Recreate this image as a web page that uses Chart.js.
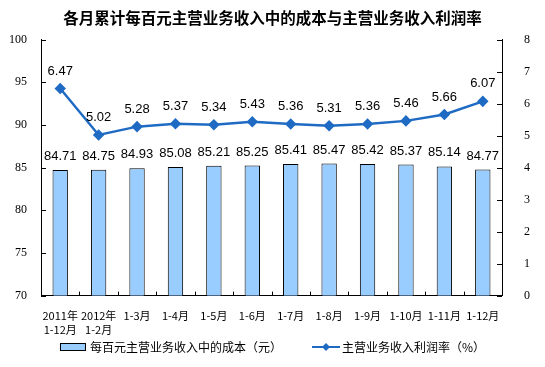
<!DOCTYPE html>
<html>
<head>
<meta charset="utf-8">
<script src="https://cdn.jsdelivr.net/npm/chart.js@4/dist/chart.umd.min.js"></script>
<style>
  html, body { margin: 0; padding: 0; background: #fff; }
  #wrap { width: 545px; height: 367px; }
</style>
</head>
<body>
<div id="wrap"><canvas id="myChart" width="545" height="367"></canvas></div>
<script>
const categories = [['2011年', '1-12月'], ['2012年', '1-2月'], '1-3月', '1-4月', '1-5月', '1-6月', '1-7月', '1-8月', '1-9月', '1-10月', '1-11月', '1-12月'];
const costPerHundred = [84.71, 84.75, 84.93, 85.08, 85.21, 85.25, 85.41, 85.47, 85.42, 85.37, 85.14, 84.77];
const profitRate = [6.47, 5.02, 5.28, 5.37, 5.34, 5.43, 5.36, 5.31, 5.36, 5.46, 5.66, 6.07];
const leftTicks = [70, 75, 80, 85, 90, 95, 100];
const rightTicks = [0, 1, 2, 3, 4, 5, 6, 7, 8];

const barColor = '#99CCFF';
const lineColor = '#1F6BC4';
const cjk = "'Noto Sans CJK SC', 'Noto Sans', sans-serif";

// value labels, inward tick marks and the legend
const extras = {
  id: 'extras',
  afterDatasetsDraw(chart) {
    const ctx = chart.ctx;
    const area = chart.chartArea;
    const y = chart.scales.y, y1 = chart.scales.y1;
    ctx.save();
    ctx.strokeStyle = '#000';
    ctx.lineWidth = 1;
    ctx.beginPath();
    leftTicks.forEach(v => {
      const py = Math.round(y.getPixelForValue(v)) + 0.5;
      ctx.moveTo(area.left, py); ctx.lineTo(area.left + 5, py);
    });
    rightTicks.forEach(v => {
      const py = Math.round(y1.getPixelForValue(v)) + 0.5;
      ctx.moveTo(area.right, py); ctx.lineTo(area.right - 5, py);
    });
    const step = (area.right - area.left) / categories.length;
    for (let i = 1; i < categories.length; i++) {
      const px = Math.round(area.left + i * step) + 0.5;
      ctx.moveTo(px, area.bottom); ctx.lineTo(px, area.bottom - 4);
    }
    ctx.stroke();

    ctx.fillStyle = '#000';
    ctx.font = "13px 'Liberation Sans', Arial, sans-serif";
    ctx.textAlign = 'center';
    ctx.textBaseline = 'bottom';
    chart.getDatasetMeta(0).data.forEach((bar, i) => {
      ctx.fillText(costPerHundred[i].toFixed(2), bar.x, bar.y - 7);
    });
    chart.getDatasetMeta(1).data.forEach((pt, i) => {
      ctx.fillText(profitRate[i].toFixed(2), pt.x, pt.y - 11);
    });
    ctx.restore();
  },
  afterDraw(chart) {
    const ctx = chart.ctx;
    const labels = chart.data.datasets.map(d => d.label);
    ctx.save();
    ctx.font = '12px ' + cjk;
    const w0 = 26 + 4 + ctx.measureText(labels[0]).width;
    const w1 = 28 + 2 + ctx.measureText(labels[1]).width;
    const gap = 30;
    let sx = (chart.width - (w0 + gap + w1)) / 2;
    const ly = 347;
    ctx.fillStyle = barColor;
    ctx.strokeStyle = '#000';
    ctx.lineWidth = 1;
    ctx.fillRect(sx, ly - 4, 26, 8);
    ctx.strokeRect(sx + 0.5, ly - 3.5, 25, 7);
    ctx.fillStyle = '#000';
    ctx.textBaseline = 'middle';
    ctx.textAlign = 'left';
    ctx.fillText(labels[0], sx + 30, ly);
    sx += w0 + gap;
    ctx.strokeStyle = lineColor;
    ctx.lineWidth = 2;
    ctx.beginPath();
    ctx.moveTo(sx, ly); ctx.lineTo(sx + 28, ly);
    ctx.stroke();
    ctx.fillStyle = lineColor;
    ctx.beginPath();
    ctx.moveTo(sx + 14, ly - 4); ctx.lineTo(sx + 18, ly); ctx.lineTo(sx + 14, ly + 4); ctx.lineTo(sx + 10, ly);
    ctx.closePath();
    ctx.fill();
    ctx.fillStyle = '#000';
    ctx.fillText(labels[1], sx + 30, ly);
    ctx.restore();
  }
};

const ctx = document.getElementById('myChart');
new Chart(ctx, {
  type: 'bar',
  data: {
    labels: categories,
    datasets: [
      {
        label: '每百元主营业务收入中的成本（元）',
        data: costPerHundred,
        backgroundColor: barColor,
        borderColor: '#000',
        borderWidth: 1,
        barPercentage: 0.4,
        categoryPercentage: 1,
        yAxisID: 'y',
        order: 2
      },
      {
        label: '主营业务收入利润率（%）',
        type: 'line',
        data: profitRate,
        borderColor: lineColor,
        backgroundColor: lineColor,
        borderWidth: 2.5,
        pointStyle: 'rectRot',
        pointRadius: 4,
        pointHoverRadius: 4,
        yAxisID: 'y1',
        order: 1
      }
    ]
  },
  options: {
    responsive: false,
    animation: false,
    layout: { padding: { top: 4, bottom: 25 } },
    plugins: {
      legend: { display: false },
      tooltip: { enabled: false },
      title: {
        display: true,
        text: '各月累计每百元主营业务收入中的成本与主营业务收入利润率',
        color: '#000',
        font: { family: cjk, size: 15.5, weight: 'bold' },
        padding: { top: 5, bottom: 12 }
      }
    },
    scales: {
      x: {
        grid: { display: false },
        border: { color: '#000' },
        ticks: { color: '#000', font: { family: cjk, size: 11, lineHeight: 1.2 }, maxRotation: 0, autoSkip: false, padding: 6 }
      },
      y: {
        position: 'left',
        min: 70, max: 100,
        grid: { display: false },
        border: { color: '#000' },
        ticks: { stepSize: 5, color: '#000', font: { family: "'Liberation Serif', 'Times New Roman', serif", size: 12 }, padding: 6 },
        afterFit(s) { s.width = 41; }
      },
      y1: {
        position: 'right',
        min: 0, max: 8,
        grid: { display: false },
        border: { color: '#000' },
        ticks: { stepSize: 1, color: '#000', font: { family: "'Liberation Serif', 'Times New Roman', serif", size: 12 }, padding: 14 },
        afterFit(s) { s.width = 43; }
      }
    }
  },
  plugins: [extras]
});
</script>
</body>
</html>
